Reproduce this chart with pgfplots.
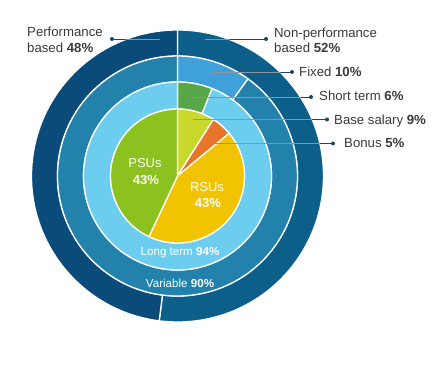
\documentclass[border=0pt]{standalone}
\usepackage{pgfplots}
\pgfplotsset{compat=1.18}
\usepackage{pgfplotstable}
\usepackage{fontspec}
\setmainfont{Liberation Sans}

\definecolor{perfblue}{HTML}{0B4B7A}
\definecolor{nonperfblue}{HTML}{0C5F88}
\definecolor{varblue}{HTML}{2282AC}
\definecolor{fixedblue}{HTML}{3FA0DA}
\definecolor{longblue}{HTML}{6CCDEE}
\definecolor{shortgreen}{HTML}{58A84A}
\definecolor{psugreen}{HTML}{8CC21F}
\definecolor{rsuyellow}{HTML}{F2C300}
\definecolor{baselime}{HTML}{C8D92B}
\definecolor{bonusorange}{HTML}{E8762A}
\definecolor{labeltext}{HTML}{3A3A3A}
\definecolor{leader}{HTML}{1F4462}
\definecolor{leaderin}{HTML}{8796A4}

% rings, clockwise from 12 o'clock
\pgfplotstableread{
label value color
NonPerformance 52 nonperfblue
Performance 48 perfblue
}\ringA
\pgfplotstableread{
label value color
Fixed 10 fixedblue
Variable 90 varblue
}\ringB
\pgfplotstableread{
label value color
ShortTerm 6 shortgreen
LongTerm 94 longblue
}\ringC
\pgfplotstableread{
label value color
BaseSalary 9 baselime
Bonus 5 bonusorange
RSUs 43 rsuyellow
PSUs 43 psugreen
}\pieD

\def\cx{177.5}
\def\cy{189}

\newcommand\buildring[4]{%
  \gdef#4{}%
  \pgfplotstablegetrowsof{#1}%
  \pgfmathtruncatemacro\lastrow{\pgfplotsretval-1}%
  \gdef\curang{90}%
  \foreach \i in {0,...,\lastrow}{%
    \pgfplotstablegetelem{\i}{value}\of{#1}\let\segval\pgfplotsretval
    \pgfplotstablegetelem{\i}{color}\of{#1}\let\segcol\pgfplotsretval
    \pgfmathsetmacro\endang{\curang-3.6*\segval}%
    \xdef#4{\unexpanded\expandafter{#4}%
      \noexpand\fill[\segcol,draw=white,line width=1.3pt]
      ([shift={(\curang:#3pt)}]axis cs:\cx,\cy)
      arc[start angle=\curang,end angle=\endang,radius=#3pt]
      -- ([shift={(\endang:#2pt)}]axis cs:\cx,\cy)
      arc[start angle=\endang,end angle=\curang,radius=#2pt] -- cycle;}%
    \xdef\curang{\endang}%
  }%
}

\begin{document}
\buildring{\ringA}{120}{146}{\ringAcmds}%
\buildring{\ringB}{94}{120}{\ringBcmds}%
\buildring{\ringC}{67}{94}{\ringCcmds}%
\buildring{\pieD}{0.01}{67}{\pieDcmds}%
\begin{tikzpicture}
\begin{axis}[
  axis line style={draw=none},
  ticks=none,
  x=1pt, y=1pt,
  xmin=0, xmax=432, ymin=0, ymax=365,
  clip=false,
]
\ringAcmds
\ringBcmds
\ringCcmds
\pieDcmds

% leader lines
\begin{scope}[leader, line width=0.9pt]
  \draw (axis cs:160,326) -- (axis cs:112,326);
  \fill (axis cs:112,326) circle[radius=2pt];
  \draw (axis cs:205,326) -- (axis cs:266,326);
  \fill (axis cs:266,326) circle[radius=2pt];
  \draw (axis cs:212,293) -- (axis cs:292,293);
  \fill (axis cs:292,293) circle[radius=2pt];
  \draw (axis cs:192,268) -- (axis cs:311,268);
  \fill (axis cs:311,268) circle[radius=2pt];
  \draw (axis cs:193,245.5) -- (axis cs:327,245.5);
  \fill (axis cs:327,245.5) circle[radius=2pt];
  \draw (axis cs:207,221.5) -- (axis cs:333,221.5);
  \fill (axis cs:333,221.5) circle[radius=2pt];
\end{scope}
\begin{scope}
  \clip (axis cs:\cx,\cy) circle[radius=146pt];
  \begin{scope}[leaderin, line width=0.9pt]
    \draw (axis cs:160,326) -- (axis cs:112,326);
    \draw (axis cs:205,326) -- (axis cs:266,326);
    \draw (axis cs:212,293) -- (axis cs:292,293);
    \draw (axis cs:192,268) -- (axis cs:311,268);
    \draw (axis cs:193,245.5) -- (axis cs:327,245.5);
    \draw (axis cs:207,221.5) -- (axis cs:333,221.5);
  \end{scope}
\end{scope}

% outside labels
\begin{scope}[every node/.style={text=labeltext, inner sep=0pt, anchor=base west, font=\fontsize{13.2}{15}\selectfont}]
  \node at (axis cs:27,328) {Performance};
  \node at (axis cs:27,312) {based \textbf{48\%}};
  \node at (axis cs:274,327) {Non-performance};
  \node at (axis cs:274,312) {based \textbf{52\%}};
  \node at (axis cs:299,288) {Fixed \textbf{10\%}};
  \node at (axis cs:319,264) {Short term \textbf{6\%}};
  \node at (axis cs:334,240) {Base salary \textbf{9\%}};
  \node at (axis cs:344,217) {Bonus \textbf{5\%}};
\end{scope}

% inside labels
\begin{scope}[every node/.style={text=white, inner sep=0pt, anchor=center}]
  \node[font=\fontsize{13}{15}\selectfont] at (axis cs:145,202) {PSUs};
  \node[font=\fontsize{13}{15}\selectfont\bfseries] at (axis cs:146,185) {43\%};
  \node[font=\fontsize{13}{15}\selectfont] at (axis cs:207,178) {RSUs};
  \node[font=\fontsize{13}{15}\selectfont\bfseries] at (axis cs:208,162) {43\%};
  \node[font=\fontsize{11.6}{14}\selectfont] at (axis cs:180,112) {Long term \textbf{94\%}};
  \node[font=\fontsize{11.6}{14}\selectfont] at (axis cs:180,82) {Variable \textbf{90\%}};
\end{scope}
\end{axis}
\end{tikzpicture}
\end{document}
